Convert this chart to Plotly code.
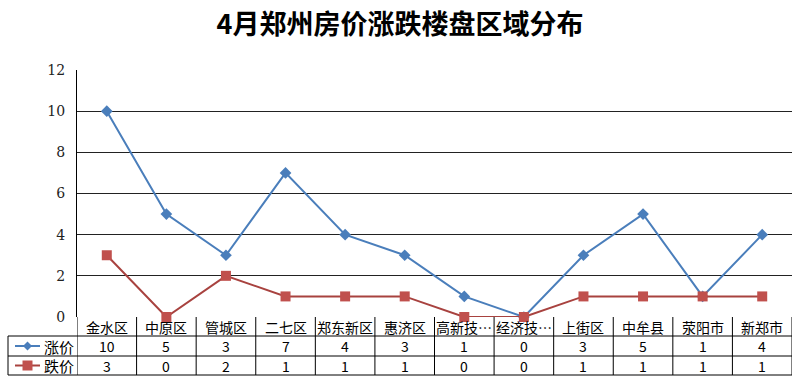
import plotly.graph_objects as go

categories = ["金水区", "中原区", "管城区", "二七区", "郑东新区", "惠济区", "高新技…", "经济技…", "上街区", "中牟县", "荥阳市", "新郑市"]
rise = [10, 5, 3, 7, 4, 3, 1, 0, 3, 5, 1, 4]
fall = [3, 0, 2, 1, 1, 1, 0, 0, 1, 1, 1, 1]
series_names = ["涨价", "跌价"]
y_ticks = [0, 2, 4, 6, 8, 10, 12]

W, H = 800, 385
L, R, T, B = 77, 8, 70, 68
PW, PH = W - L - R, H - T - B
FONT = "Noto Sans CJK SC"

def py(pix):
    return (H - B - pix) / PH

def px(pix):
    return (pix - L) / PW

BLUE = "#4A7EBB"
RED_LINE = "#A8423F"
RED_MK = "#C0504D"

fig = go.Figure()
fig.add_trace(go.Scatter(x=categories, y=rise, mode="lines+markers", name=series_names[0],
                         line=dict(color=BLUE, width=2),
                         marker=dict(symbol="diamond", size=9, color=BLUE),
                         cliponaxis=False))
fig.add_trace(go.Scatter(x=categories, y=fall, mode="lines+markers", name=series_names[1],
                         line=dict(color=RED_LINE, width=2),
                         marker=dict(symbol="square", size=10, color=RED_MK),
                         cliponaxis=False))

shapes = []
ann = []
line_c = "#000000"
row_top, row1, row2, row_bot = H - B, 336, 356, 375
x_left_pix = 8
for yy, x0 in [(row1, x_left_pix), (row2, x_left_pix), (row_bot, x_left_pix)]:
    shapes.append(dict(type="line", xref="paper", yref="paper", x0=px(x0), x1=1, y0=py(yy), y1=py(yy),
                       line=dict(color=line_c, width=1)))
n = len(categories)
for k in range(n + 1):
    shapes.append(dict(type="line", xref="x", yref="paper", x0=k - 0.5, x1=k - 0.5,
                       y0=py(row_top), y1=py(row_bot), line=dict(color=line_c, width=1)))
shapes.append(dict(type="line", xref="paper", yref="paper", x0=px(x_left_pix), x1=px(x_left_pix),
                   y0=py(row1), y1=py(row_bot), line=dict(color=line_c, width=1)))

tf = dict(size=14, color="#000", family=FONT)
for i, c in enumerate(categories):
    ann.append(dict(x=c, xref="x", yref="paper", y=py((row_top + row1) / 2), text=c, showarrow=False,
                    font=tf, xanchor="center", yanchor="middle"))
    ann.append(dict(x=c, xref="x", yref="paper", y=py((row1 + row2) / 2), text=str(rise[i]), showarrow=False,
                    font=tf, xanchor="center", yanchor="middle"))
    ann.append(dict(x=c, xref="x", yref="paper", y=py((row2 + row_bot) / 2), text=str(fall[i]), showarrow=False,
                    font=tf, xanchor="center", yanchor="middle"))

for name, yc, lc in [(series_names[0], (row1 + row2) / 2, BLUE),
                     (series_names[1], (row2 + row_bot) / 2, RED_LINE)]:
    shapes.append(dict(type="line", xref="paper", yref="paper", x0=px(15), x1=px(40), y0=py(yc), y1=py(yc),
                       line=dict(color=lc, width=2)))
    ann.append(dict(xref="paper", yref="paper", x=px(42), y=py(yc), text=name, showarrow=False,
                    font=dict(size=15, color="#000", family=FONT), xanchor="left", yanchor="middle"))

yc1 = (row1 + row2) / 2
shapes.append(dict(type="path", xref="paper", yref="paper",
                   path=f"M {px(23)},{py(yc1)} L {px(27.5)},{py(yc1-4.5)} L {px(32)},{py(yc1)} L {px(27.5)},{py(yc1+4.5)} Z",
                   fillcolor=BLUE, line=dict(color=BLUE, width=0)))
yc2 = (row2 + row_bot) / 2
shapes.append(dict(type="rect", xref="paper", yref="paper",
                   x0=px(22.5), x1=px(32.5), y0=py(yc2 - 5), y1=py(yc2 + 5),
                   fillcolor=RED_MK, line=dict(color=RED_MK, width=0)))

fig.update_layout(
    width=W, height=H,
    margin=dict(l=L, r=R, t=T, b=B),
    paper_bgcolor="white", plot_bgcolor="white",
    showlegend=False,
    title=dict(text="<b>4月郑州房价涨跌楼盘区域分布</b>", x=0.5, xanchor="center", y=1 - 25 / H, yanchor="middle",
               font=dict(size=27, color="#000", family=FONT)),
    xaxis=dict(type="category", range=[-0.5, n - 0.5], showticklabels=False, showgrid=False,
               zeroline=False, showline=False, ticks=""),
    yaxis=dict(range=[0, 12], tickvals=y_ticks, showgrid=True, gridcolor="#222", gridwidth=1,
               zeroline=False, showline=True, linecolor="#000", linewidth=1, ticks="",
               ticklabelstandoff=8,
               tickfont=dict(size=14, color="#222", family="DejaVu Serif")),
    shapes=shapes,
    annotations=ann,
    font=dict(family=FONT),
)

fig.write_html("out.html")
